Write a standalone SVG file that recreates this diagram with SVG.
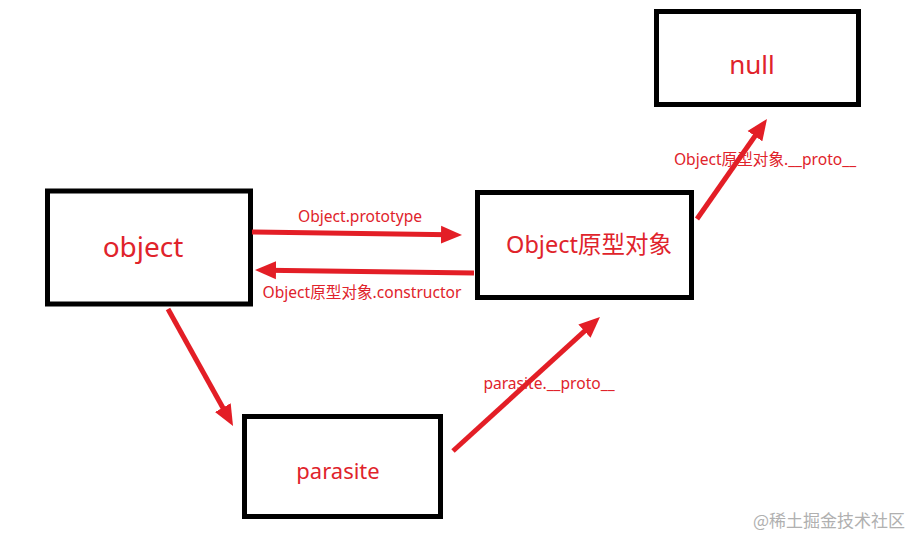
<svg xmlns="http://www.w3.org/2000/svg" width="911" height="536" viewBox="0 0 911 536">
<style>
.box{fill:#fff;stroke:#000;stroke-width:5}
.lbl{fill:#e0232b;font-family:"Noto Sans","Noto Sans CJK SC",sans-serif;text-anchor:middle}
.elbl{font-size:15.6px}
.edge{stroke:#e31e26;stroke-width:5;fill:none;marker-end:url(#ah)}
.wm{fill:#b0b0b0;font-family:"Noto Sans CJK SC",sans-serif;font-size:17px;text-anchor:end}
</style>
<defs>
<marker id="ah" markerUnits="userSpaceOnUse" markerWidth="22" markerHeight="20" viewBox="0 0 22 20" refX="9" refY="10" orient="auto">
<path d="M0,1 L21,10 L0,19 z" fill="#e31e26"/>
</marker>
</defs>
<rect width="911" height="536" fill="#fff"/>
<g id="node-object">
<rect class="box" x="47.5" y="191" width="203" height="113"/>
<text class="lbl" x="143" y="257" font-size="28">object</text>
</g>
<g id="node-prototype">
<rect class="box" x="477.5" y="192.5" width="214" height="105"/>
<text class="lbl" x="589" y="253" font-size="23.5">Object原型对象</text>
</g>
<g id="node-null">
<rect class="box" x="656.5" y="11.5" width="202" height="93"/>
<text class="lbl" x="752" y="74" font-size="26">null</text>
</g>
<g id="node-parasite">
<rect class="box" x="244.5" y="416.5" width="196" height="100"/>
<text class="lbl" x="338" y="479" font-size="22">parasite</text>
</g>
<g id="connectors">
<line class="edge" x1="252" y1="232" x2="450" y2="234.8"/>
<line class="edge" x1="474" y1="273" x2="267" y2="270.2"/>
<line class="edge" x1="168" y1="309" x2="227.2" y2="415.5"/>
<line class="edge" x1="453" y1="451" x2="591.1" y2="325.1"/>
<line class="edge" x1="697" y1="219" x2="760.1" y2="128.8"/>
<text class="lbl elbl" x="360" y="222">Object.prototype</text>
<text class="lbl elbl" x="362" y="298">Object原型对象.constructor</text>
<text class="lbl elbl" x="765" y="165">Object原型对象.__proto__</text>
<text class="lbl elbl" x="549" y="389">parasite.__proto__</text>
</g>
<text class="wm" x="905" y="527">@稀土掘金技术社区</text>
</svg>
